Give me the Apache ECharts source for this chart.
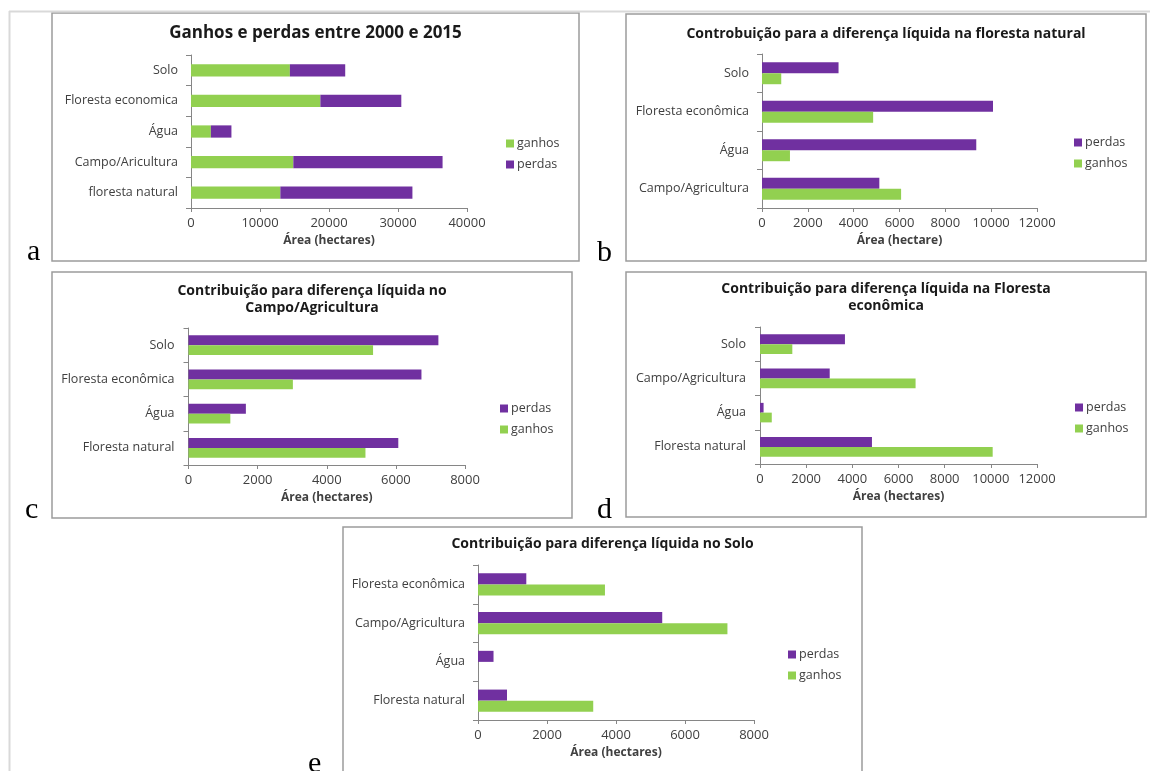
<!DOCTYPE html>
<html>
<head>
<meta charset="utf-8">
<script src="https://cdn.jsdelivr.net/npm/echarts@6/dist/echarts.min.js"></script>
<style>
html,body{margin:0;padding:0;background:#fff;}
#chart{width:1150px;height:771px;}
</style>
</head>
<body>
<div id="chart"></div>
<script>
// ---- Data ----
const catsA = ['floresta natural', 'Campo/Aricultura', 'Água', 'Floresta economica', 'Solo'];
const ganhosA = [12950, 14830, 2880, 18750, 14330];
const perdasA = [19140, 21630, 2980, 11730, 8020];

const catsB = ['Campo/Agricultura', 'Água', 'Floresta econômica', 'Solo'];
const perdasB = [5120, 9350, 10080, 3340];
const ganhosB = [6070, 1220, 4850, 840];

const catsC = ['Floresta natural', 'Água', 'Floresta econômica', 'Solo'];
const perdasC = [6070, 1660, 6740, 7230];
const ganhosC = [5120, 1210, 3020, 5340];

const catsD = ['Floresta natural', 'Água', 'Campo/Agricultura', 'Solo'];
const perdasD = [4850, 155, 3020, 3680];
const ganhosD = [10080, 510, 6740, 1400];

const catsE = ['Floresta natural', 'Água', 'Campo/Agricultura', 'Floresta econômica'];
const perdasE = [840, 450, 5340, 1400];
const ganhosE = [3340, 0, 7230, 3680];

const titles = [
  'Ganhos e perdas entre 2000 e 2015',
  'Controbuição para a diferença líquida na floresta natural',
  'Contribuição para diferença líquida no\nCampo/Agricultura',
  'Contribuição para diferença líquida na Floresta\neconômica',
  'Contribuição para diferença líquida no Solo'
];
const axisNames = ['Área (hectares)', 'Área (hectare)', 'Área (hectares)', 'Área (hectares)', 'Área (hectares)'];
const axisMax = [40000, 12000, 8000, 12000, 8000];
const axisStep = [10000, 2000, 2000, 2000, 2000];

// ---- Style ----
const GREEN = '#92D050';
const PURPLE = '#7030A0';
const FONT = 'Open Sans';
const TXT = '#404040';
const AXC = '#868686';

// panel boxes [x1,y1,x2,y2]
const boxes = [
  [52, 13, 579, 261],
  [626, 14, 1146, 261],
  [52, 272, 572, 518],
  [626, 272, 1146, 517],
  [343, 527, 862, 790]
];
const grids = [
  {left: 191, top: 55, width: 276, height: 153},
  {left: 762, top: 54, width: 275, height: 154},
  {left: 188.5, top: 328, width: 276.5, height: 137},
  {left: 760, top: 327, width: 277, height: 137},
  {left: 478, top: 565, width: 276, height: 155}
];
const labelMargin = [13, 13, 14, 14, 13];
const titleTops = [25, 26, 282.5, 280.5, 536];
const titleSizes = [17, 14, 14, 14, 14];
const legendPos = [[506, 135], [1074, 134], [500, 400], [1075, 399], [788, 646]];
const letters = [['a', 27, 260], ['b', 597, 261], ['c', 25, 518], ['d', 597, 518], ['e', 308, 772]];

const cats = [catsA, catsB, catsC, catsD, catsE];

const option = {
  animation: false,
  backgroundColor: '#fff',
  title: titles.map((t, i) => ({
    text: t,
    left: (boxes[i][0] + boxes[i][2]) / 2,
    top: titleTops[i],
    textAlign: 'center',
    padding: 0,
    textStyle: {fontFamily: FONT, fontWeight: 'bold', fontSize: titleSizes[i], color: '#1a1a1a', lineHeight: 17}
  })),
  grid: grids.map(g => Object.assign({containLabel: false}, g)),
  xAxis: grids.map((g, i) => ({
    type: 'value',
    gridIndex: i,
    min: 0,
    max: axisMax[i],
    interval: axisStep[i],
    name: axisNames[i],
    nameLocation: 'middle',
    nameGap: 26.5,
    nameTextStyle: {fontFamily: FONT, fontWeight: 'bold', fontSize: 12, color: TXT},
    axisLine: {show: true, lineStyle: {color: AXC, width: 1}},
    axisTick: {show: true, length: 4, lineStyle: {color: AXC}},
    axisLabel: {fontFamily: FONT, fontSize: 13, color: TXT, margin: 9, formatter: v => String(v)},
    splitLine: {show: false}
  })),
  yAxis: grids.map((g, i) => ({
    type: 'category',
    gridIndex: i,
    data: cats[i],
    axisLine: {show: true, lineStyle: {color: AXC, width: 1}},
    axisTick: {show: true, length: 5, lineStyle: {color: AXC}},
    axisLabel: {fontFamily: FONT, fontSize: 12.5, color: TXT, margin: labelMargin[i]},
    splitLine: {show: false}
  })),
  legend: legendPos.map((p, i) => ({
    orient: 'vertical',
    left: p[0],
    top: p[1],
    padding: 0,
    itemWidth: 8,
    itemHeight: 8,
    itemGap: 4,
    icon: 'rect',
    selectedMode: false,
    data: i === 0 ? ['ganhos', 'perdas'] : ['perdas', 'ganhos'],
    textStyle: {fontFamily: FONT, fontSize: 12.5, color: TXT, padding: [0, 0, 0, -2], lineHeight: 17}
  })),
  series: [],
  graphic: []
};

// panel a: stacked
option.series.push(
  {type: 'bar', name: 'ganhos', xAxisIndex: 0, yAxisIndex: 0, stack: 'a', data: ganhosA,
   itemStyle: {color: GREEN}, barCategoryGap: '60%'},
  {type: 'bar', name: 'perdas', xAxisIndex: 0, yAxisIndex: 0, stack: 'a', data: perdasA,
   itemStyle: {color: PURPLE}, barCategoryGap: '60%'}
);
// panels b-e: clustered
const perdasAll = [null, perdasB, perdasC, perdasD, perdasE];
const ganhosAll = [null, ganhosB, ganhosC, ganhosD, ganhosE];
for (let i = 1; i < 5; i++) {
  option.series.push(
    {type: 'bar', name: 'perdas', xAxisIndex: i, yAxisIndex: i, data: perdasAll[i],
     itemStyle: {color: PURPLE}, barGap: '0%', barCategoryGap: '43%'},
    {type: 'bar', name: 'ganhos', xAxisIndex: i, yAxisIndex: i, data: ganhosAll[i],
     itemStyle: {color: GREEN}, barGap: '0%', barCategoryGap: '43%'}
  );
}

// page frame lines
option.graphic.push(
  {type: 'line', shape: {x1: 9, y1: 11.5, x2: 1150, y2: 11.5}, style: {stroke: '#d9d9d9', lineWidth: 2}, silent: true},
  {type: 'line', shape: {x1: 9.5, y1: 11, x2: 9.5, y2: 771}, style: {stroke: '#d9d9d9', lineWidth: 2}, silent: true}
);
// panel boxes
boxes.forEach(b => {
  option.graphic.push({
    type: 'rect', z: -1,
    shape: {x: b[0], y: b[1], width: b[2] - b[0], height: b[3] - b[1]},
    style: {fill: 'none', stroke: '#9c9c9c', lineWidth: 1.5}, silent: true
  });
});
// letters
letters.forEach(l => {
  option.graphic.push({
    type: 'text', x: l[1], y: l[2] + 7,
    style: {text: l[0], font: '30px "Liberation Serif"', fill: '#000', textAlign: 'left', textVerticalAlign: 'bottom'},
    silent: true
  });
});

const chart = echarts.init(document.getElementById('chart'), null, {renderer: 'canvas'});
chart.setOption(option);
</script>
</body>
</html>
